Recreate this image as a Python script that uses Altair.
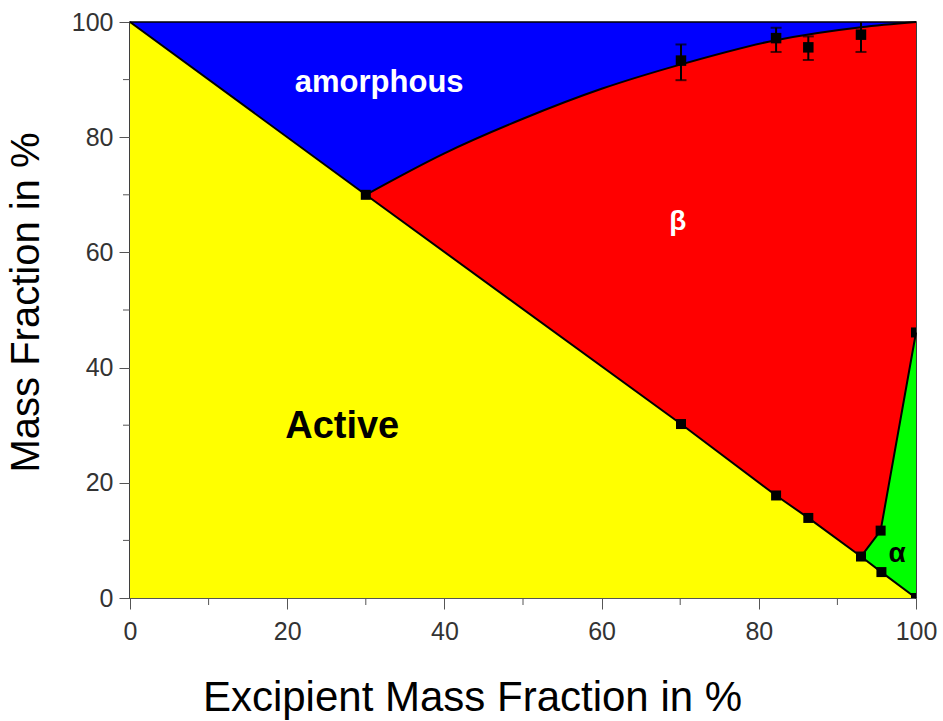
import altair as alt
import pandas as pd

# Phase boundaries
diag_x = [0, 30, 70.1, 82.2, 86.3, 93.0, 95.6, 100]
diag_y = [100, 70, 30.2, 17.8, 13.9, 7.2, 4.5, 0]

curve_x = [30, 40, 50, 60, 70, 82, 93, 100]
curve_y = [70, 77.2, 83.2, 88.4, 92.6, 96.8, 99.1, 100]

alpha_x = [93.0, 95.5, 100]
alpha_y = [7.2, 11.7, 46.1]

# Measured points
pt_x = [30, 70.1, 82.2, 86.3, 93.0, 95.6, 100, 95.5, 100]
pt_y = [70, 30.2, 17.8, 13.9, 7.2, 4.5, 0, 11.7, 46.1]

err_x = [70.1, 82.2, 86.3, 93.0]
err_y = [93.3, 97.2, 95.6, 97.8]
err_lo = [89.9, 94.8, 93.4, 94.8]
err_hi = [96.1, 99.0, 97.5, 101.2]

minor_ticks = [10, 30, 50, 70, 90]

labels_text = ["amorphous", "β", "Active", "α"]
labels_x = [31.7, 69.7, 27.0, 97.6]
labels_y = [89.4, 65.3, 29.7, 7.7]
labels_color = ["white", "white", "black", "black"]
labels_size = [31, 28, 38, 28]

FONT = "Liberation Sans"

diag = pd.DataFrame({"x": diag_x, "y": diag_y})
curve = pd.DataFrame({"x": curve_x, "y": curve_y})
alpha_b = pd.DataFrame({"x": alpha_x, "y": alpha_y})
pts = pd.DataFrame({"x": pt_x, "y": pt_y})
err = pd.DataFrame({"x": err_x, "y": err_y, "lo": err_lo, "hi": err_hi})
minor = pd.DataFrame({"v": minor_ticks})
labs = pd.DataFrame({"t": labels_text, "x": labels_x, "y": labels_y,
                     "c": labels_color, "s": labels_size})

xscale = alt.Scale(domain=[0, 100], nice=False, zero=False)
yscale = alt.Scale(domain=[0, 100], nice=False, zero=False)

xaxis = alt.Axis(values=[0, 20, 40, 60, 80, 100], title="Excipient Mass Fraction in %",
                 grid=False, tickSize=11, labelPadding=10, labelFontSize=25,
                 labelFont=FONT, labelColor="#333333", titleFont=FONT,
                 titleFontSize=42, titleFontWeight="normal", titleColor="black",
                 titleX=342, titleY=99, titleBaseline="middle", titleAlign="center",
                 domainColor="#555555", tickColor="#555555", labelFlush=False)
yaxis = alt.Axis(values=[0, 20, 40, 60, 80, 100], title="Mass Fraction in %",
                 grid=False, tickSize=11, labelPadding=6, labelFontSize=25,
                 labelFont=FONT, labelColor="#333333", titleFont=FONT,
                 titleFontSize=40, titleFontWeight="normal", titleColor="black",
                 titleX=-104, titleY=280, titleAngle=270, titleBaseline="middle",
                 titleAlign="center",
                 domainColor="#555555", tickColor="#555555", labelFlush=False)

X = lambda f="x": alt.X(f"{f}:Q", scale=xscale, axis=xaxis)
Y = lambda f="y": alt.Y(f"{f}:Q", scale=yscale, axis=yaxis)

red = alt.Chart(curve).mark_area(color="#FF0000", interpolate="monotone").encode(
    x=X(), y=Y(), y2=alt.datum(0))
green = alt.Chart(alpha_b).mark_area(color="#00FF00").encode(
    x=X(), y=Y(), y2=alt.datum(0))
yellow = alt.Chart(diag).mark_area(color="#FFFF00").encode(
    x=X(), y=Y(), y2=alt.datum(0))

line_diag = alt.Chart(diag).mark_line(color="black", strokeWidth=2).encode(x=X(), y=Y())
line_curve = alt.Chart(curve).mark_line(color="black", strokeWidth=2,
                                        interpolate="monotone").encode(x=X(), y=Y())
line_alpha = alt.Chart(alpha_b).mark_line(color="black", strokeWidth=2).encode(x=X(), y=Y())

err_rule = alt.Chart(err).mark_rule(color="black", strokeWidth=2, clip=True).encode(
    x=X(), y=Y("lo"), y2="hi:Q")
cap_lo = alt.Chart(err).mark_tick(color="black", orient="horizontal", size=11,
                                  thickness=2, clip=True).encode(x=X(), y=Y("lo"))
cap_hi = alt.Chart(err).mark_tick(color="black", orient="horizontal", size=11,
                                  thickness=2, clip=True).encode(x=X(), y=Y("hi"))
err_pts = alt.Chart(err).mark_square(color="black", size=110, opacity=1,
                                     clip=True).encode(x=X(), y=Y())

squares = alt.Chart(pts).mark_square(color="black", size=100, opacity=1,
                                     clip=True).encode(x=X(), y=Y())

minor_x = alt.Chart(minor).mark_rule(color="#555555", strokeWidth=1).encode(
    x=alt.X("v:Q", scale=xscale, axis=xaxis), y=alt.value(576), y2=alt.value(583))
minor_y = alt.Chart(minor).mark_rule(color="#555555", strokeWidth=1).encode(
    y=alt.Y("v:Q", scale=yscale, axis=yaxis), x=alt.value(0), x2=alt.value(-7))

text = alt.Chart(labs).mark_text(font=FONT, fontWeight="bold", align="center",
                                 baseline="middle").encode(
    x=X(), y=Y(), text="t:N",
    color=alt.Color("c:N", scale=None),
    size=alt.Size("s:Q", scale=None))

chart = alt.layer(
    red, green, yellow, line_diag, line_curve, line_alpha,
    err_rule, cap_lo, cap_hi, err_pts, squares, minor_x, minor_y, text
).properties(
    width=786, height=576,
    autosize=alt.AutoSizeParams(type="none"),
    padding={"left": 130, "top": 22, "right": 27, "bottom": 123},
    background="white"
).configure_view(
    fill="#0000FF", stroke="black", strokeWidth=1.5
)

chart.save("out.html", embed_options={"renderer": "svg", "actions": False})
